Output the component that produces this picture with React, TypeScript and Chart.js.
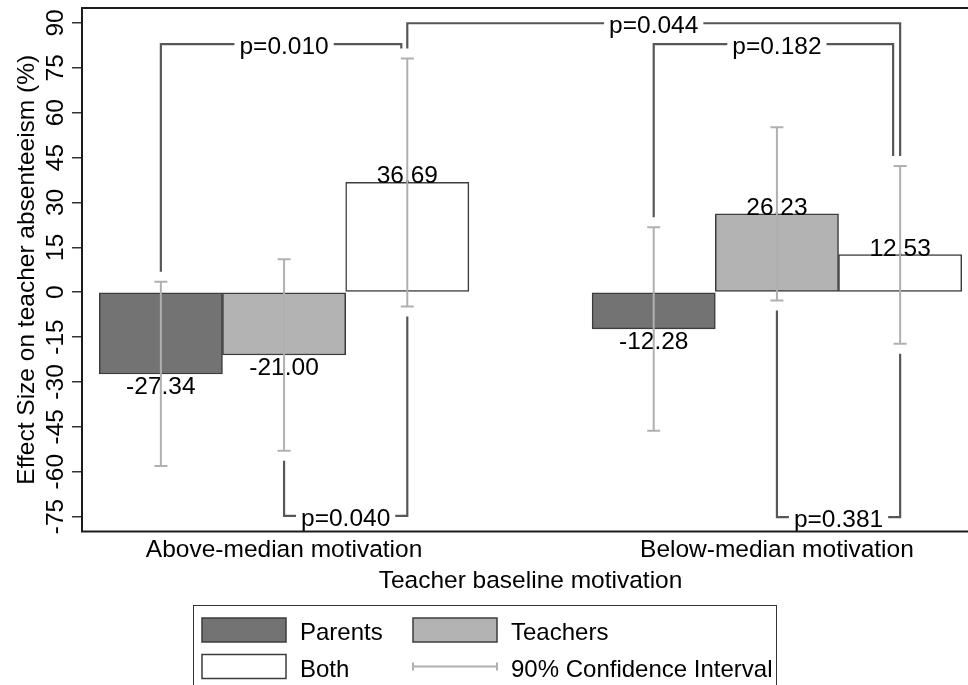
import React, { useEffect, useRef } from 'react';
import { Chart, registerables } from 'chart.js';

Chart.register(...registerables);

// ---------- data ----------
const categories = ['Above-median motivation', 'Below-median motivation'];
const seriesNames = ['Parents', 'Teachers', 'Both'];
const parents = [-27.34, -12.28];
const teachers = [-21.0, 26.23];
const both = [36.69, 12.53];
const parentsLow = [-58.1, -46.3];
const parentsHigh = [3.5, 21.7];
const teachersLow = [-53.0, -2.8];
const teachersHigh = [11.0, 55.1];
const bothLow = [-4.8, -17.2];
const bothHigh = [78.1, 42.2];
const yTicks = [-75, -60, -45, -30, -15, 0, 15, 30, 45, 60, 75, 90];
const xTitle = 'Teacher baseline motivation';
const yTitle = 'Effect Size on teacher absenteeism (%)';
const ciLabel = '90% Confidence Interval';
// p-value brackets: from (group, series) to (group, series) at a y level
const pTexts = ['p=0.010', 'p=0.044', 'p=0.182', 'p=0.040', 'p=0.381'];
const pGroupA = [0, 0, 1, 0, 1];
const pSeriesA = [0, 2, 0, 1, 1];
const pGroupB = [0, 1, 1, 0, 1];
const pSeriesB = [2, 2, 2, 2, 2];
const pLevels = [82.9, 89.9, 82.9, -74.8, -75.2];

// ---------- style ----------
const FONT = '"Liberation Sans", Arial, Helvetica, sans-serif';
const fillColors = ['#737373', '#b3b3b3', '#ffffff'];
const BAR_BORDER = '#3c3c3c';
const CI_COLOR = '#b0b0b0';
const BRACKET_COLOR = '#575757';
const pShiftB = [-6, 0, -7, 0, 0];
const GROUP_STRIDE = 4;

const values = [parents, teachers, both];
const lows = [parentsLow, teachersLow, bothLow];
const highs = [parentsHigh, teachersHigh, bothHigh];
const slot = (g: number, s: number) => g * GROUP_STRIDE + s;

const overlayPlugin = {
  id: 'overlay',
  afterDatasetsDraw(chart: any) {
    const ctx = chart.ctx as CanvasRenderingContext2D;
    const xs = chart.scales.x;
    const ys = chart.scales.y;
    const ca = chart.chartArea;
    ctx.save();

    // value labels
    ctx.fillStyle = '#000';
    ctx.font = `24.5px ${FONT}`;
    ctx.textAlign = 'center';
    ctx.textBaseline = 'alphabetic';
    values.forEach((arr, s) => {
      arr.forEach((v, g) => {
        const x = xs.getPixelForValue(slot(g, s));
        const y = ys.getPixelForValue(v);
        const by = v >= 0 ? y + 1 : y + 20;
        ctx.fillText(v.toFixed(2), x, by);
      });
    });

    // confidence intervals
    ctx.strokeStyle = CI_COLOR;
    ctx.lineWidth = 2;
    lows.forEach((arr, s) => {
      arr.forEach((lo, g) => {
        const hi = highs[s][g];
        const x = xs.getPixelForValue(slot(g, s));
        const y1 = ys.getPixelForValue(lo);
        const y2 = ys.getPixelForValue(hi);
        ctx.beginPath();
        ctx.moveTo(x, y1);
        ctx.lineTo(x, y2);
        ctx.moveTo(x - 6.5, y1);
        ctx.lineTo(x + 6.5, y1);
        ctx.moveTo(x - 6.5, y2);
        ctx.lineTo(x + 6.5, y2);
        ctx.stroke();
      });
    });

    // p-value brackets
    ctx.strokeStyle = BRACKET_COLOR;
    ctx.lineWidth = 2.2;
    ctx.lineJoin = 'miter';
    ctx.font = `24.5px ${FONT}`;
    pTexts.forEach((txt, i) => {
      const level = pLevels[i];
      const ly = ys.getPixelForValue(level);
      const ends = [
        { g: pGroupA[i], s: pSeriesA[i], shift: 0 },
        { g: pGroupB[i], s: pSeriesB[i], shift: pShiftB[i] },
      ].map((e) => {
        const xc = xs.getPixelForValue(slot(e.g, e.s));
        const up = level > 0;
        const ciEnd = ys.getPixelForValue(up ? highs[e.s][e.g] : lows[e.s][e.g]);
        const yEnd = up ? ciEnd - 10 : ciEnd + 10;
        return { x: xc + e.shift, yEnd, xc };
      });
      const midX = (ends[0].xc + ends[1].xc) / 2;
      const tw = ctx.measureText(txt).width;
      const gapL = midX - tw / 2 - 5;
      const gapR = midX + tw / 2 + 5;
      ctx.beginPath();
      ctx.moveTo(ends[0].x, ends[0].yEnd);
      ctx.lineTo(ends[0].x, ly);
      ctx.lineTo(gapL, ly);
      ctx.moveTo(gapR, ly);
      ctx.lineTo(ends[1].x, ly);
      ctx.lineTo(ends[1].x, ends[1].yEnd);
      ctx.stroke();
      ctx.fillStyle = '#000';
      ctx.textAlign = 'center';
      ctx.textBaseline = 'alphabetic';
      ctx.fillText(txt, midX, ly + 10);
    });

    // plot frame
    ctx.strokeStyle = '#1c1c1c';
    ctx.lineWidth = 2;
    ctx.strokeRect(ca.left, ca.top, ca.right - ca.left, ca.bottom - ca.top);
    ctx.restore();
  },
  afterDraw(chart: any) {
    const ctx = chart.ctx as CanvasRenderingContext2D;
    const xs = chart.scales.x;
    const ys = chart.scales.y;
    const ca = chart.chartArea;
    ctx.save();
    ctx.fillStyle = '#000';
    ctx.font = `24.5px ${FONT}`;
    ctx.textBaseline = 'alphabetic';
    ctx.textAlign = 'center';

    // y tick labels (rotated)
    yTicks.forEach((t) => {
      const y = ys.getPixelForValue(t);
      ctx.save();
      ctx.translate(ca.left - 19, y);
      ctx.rotate(-Math.PI / 2);
      ctx.fillText(String(t), 0, 0);
      ctx.restore();
    });

    // y title
    ctx.save();
    ctx.translate(33.5, (ca.top + ca.bottom) / 2);
    ctx.rotate(-Math.PI / 2);
    ctx.fillText(yTitle, 0, 0);
    ctx.restore();

    // x category labels
    categories.forEach((c, g) => {
      ctx.fillText(c, xs.getPixelForValue(slot(g, 1)), ca.bottom + 25);
    });
    // x title
    ctx.fillText(xTitle, (ca.left + ca.right) / 2, ca.bottom + 56);

    // legend
    const lx = 193.5;
    const ly = 605.5;
    ctx.strokeStyle = '#333';
    ctx.lineWidth = 1;
    ctx.strokeRect(lx, ly, 583, 110);
    ctx.font = `24px ${FONT}`;
    ctx.textAlign = 'left';
    const keyW = 84;
    const keyH = 24;
    const cols = [202, 413];
    const rows = [618, 654.5];
    const items = [
      { kind: 'box', color: fillColors[0], label: seriesNames[0], c: 0, r: 0 },
      { kind: 'box', color: fillColors[1], label: seriesNames[1], c: 1, r: 0 },
      { kind: 'box', color: fillColors[2], label: seriesNames[2], c: 0, r: 1 },
      { kind: 'ci', color: CI_COLOR, label: ciLabel, c: 1, r: 1 },
    ];
    items.forEach((it) => {
      const x = cols[it.c];
      const y = rows[it.r];
      if (it.kind === 'box') {
        ctx.fillStyle = it.color;
        ctx.fillRect(x, y, keyW, keyH);
        ctx.strokeStyle = BAR_BORDER;
        ctx.lineWidth = 1.5;
        ctx.strokeRect(x, y, keyW, keyH);
      } else {
        const cy = y + keyH / 2;
        ctx.strokeStyle = it.color;
        ctx.lineWidth = 2;
        ctx.beginPath();
        ctx.moveTo(x, cy);
        ctx.lineTo(x + keyW, cy);
        ctx.moveTo(x, cy - 4);
        ctx.lineTo(x, cy + 4);
        ctx.moveTo(x + keyW, cy - 4);
        ctx.lineTo(x + keyW, cy + 4);
        ctx.stroke();
      }
      ctx.fillStyle = '#000';
      ctx.fillText(it.label, x + keyW + 14, y + keyH - 2);
    });
    ctx.restore();
  },
};

export default function App() {
  const ref = useRef<HTMLCanvasElement | null>(null);
  useEffect(() => {
    if (!ref.current) return;
    const datasets = seriesNames.map((name, s) => ({
      label: name,
      data: values[s].map((v, g) => ({ x: slot(g, s), y: v })),
      backgroundColor: fillColors[s],
      borderColor: BAR_BORDER,
      borderWidth: 1.5,
      borderSkipped: false as const,
      grouped: false,
      barPercentage: 1,
      categoryPercentage: 1,
    }));
    const chart = new Chart(ref.current, {
      type: 'bar',
      data: { datasets: datasets as any },
      options: {
        animation: false,
        responsive: false,
        maintainAspectRatio: false,
        devicePixelRatio: 1,
        layout: { padding: { left: 72, right: 11, top: 8, bottom: 153.5 } },
        plugins: {
          legend: { display: false },
          tooltip: { enabled: false },
        },
        scales: {
          x: {
            type: 'linear',
            display: true,
            offset: false,
            min: -0.64,
            max: 6.64,
            afterBuildTicks: (s: any) => {
              s.ticks = [{ value: 1 }, { value: 5 }];
            },
            ticks: { display: false },
            grid: { display: false, drawTicks: false, offset: false },
            border: { display: false },
            title: { display: false },
          },
          y: {
            type: 'linear',
            min: -80,
            max: 95,
            afterBuildTicks: (s: any) => {
              s.ticks = yTicks.map((v) => ({ value: v }));
            },
            ticks: { display: false },
            grid: {
              display: true,
              drawOnChartArea: false,
              drawTicks: true,
              tickLength: 10,
              color: '#333',
              lineWidth: 1.5,
            },
            border: { display: false },
          },
        },
      } as any,
      plugins: [overlayPlugin],
    });
    return () => chart.destroy();
  }, []);
  return (
    <div
      style={{
        position: 'absolute',
        left: 0,
        top: 0,
        width: 968,
        height: 685,
        overflow: 'hidden',
        background: '#fff',
      }}
    >
      <canvas ref={ref} width={990} height={685} style={{ display: 'block' }} />
    </div>
  );
}
